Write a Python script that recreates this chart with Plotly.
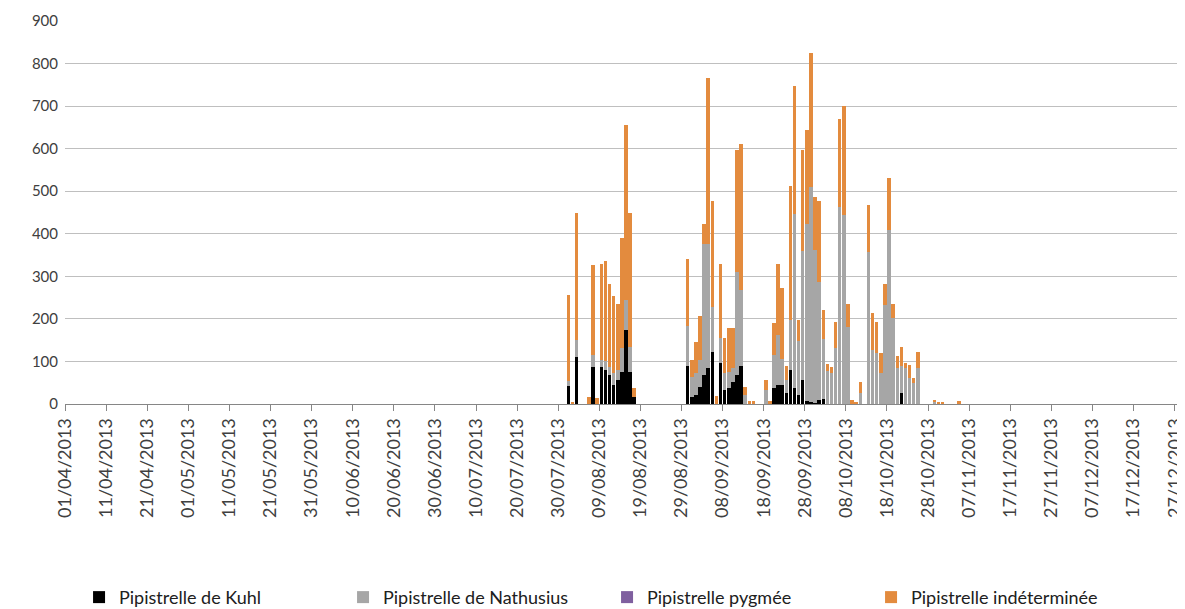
import pandas as pd
import plotly.graph_objects as go

# Daily dates with activity window (01/08/2013 -> 04/11/2013)
dates = pd.date_range("2013-08-01", "2013-11-04", freq="D")

kuhl = [
    43, 0, 110, 0, 0, 0, 87, 0, 86, 80,
    68, 45, 56, 76, 174, 76, 17, 0, 0, 0,
    0, 0, 0, 0, 0, 0, 0, 0, 0, 89,
    17, 21, 41, 68, 84, 123, 0, 96, 33, 37,
    52, 68, 89, 0, 0, 0, 0, 0, 0, 0,
    38, 45, 45, 25, 80, 37, 20, 56, 8, 5,
    3, 10, 12, 0, 0, 0, 0, 0, 0, 0,
    0, 0, 0, 0, 0, 0, 0, 0, 0, 0,
    0, 25, 0, 0, 0, 0, 0, 0, 0, 0,
    0, 0, 0, 0, 0, 0,
]
nathusius = [
    12, 0, 40, 0, 0, 0, 29, 0, 17, 22,
    20, 27, 24, 55, 70, 59, 0, 0, 0, 0,
    0, 0, 0, 0, 0, 0, 0, 0, 0, 94,
    47, 51, 62, 309, 293, 106, 0, 58, 39, 39,
    32, 243, 179, 20, 0, 0, 0, 0, 33, 0,
    77, 117, 60, 31, 117, 410, 128, 303, 416, 506,
    359, 277, 140, 78, 72, 131, 462, 444, 182, 0,
    0, 27, 0, 358, 127, 119, 74, 233, 409, 201,
    84, 64, 84, 60, 49, 84, 0, 0, 0, 6,
    0, 0, 0, 0, 0, 0,
]
pygmee = [0] * 96
indeterminee = [
    201, 3, 298, 0, 0, 17, 210, 14, 226, 235,
    195, 182, 155, 258, 411, 313, 20, 0, 0, 0,
    0, 0, 0, 0, 0, 0, 0, 0, 0, 157,
    39, 74, 104, 47, 390, 247, 18, 175, 82, 102,
    94, 287, 344, 21, 6, 6, 0, 0, 23, 6,
    76, 167, 167, 34, 315, 301, 49, 238, 221, 313,
    125, 191, 69, 16, 16, 62, 207, 256, 53, 9,
    5, 25, 0, 109, 86, 74, 45, 50, 121, 35,
    29, 44, 12, 32, 11, 39, 0, 0, 0, 2,
    3, 3, 0, 0, 0, 6,
]

series_names = ["Pipistrelle de Kuhl", "Pipistrelle de Nathusius",
                "Pipistrelle pygmée", "Pipistrelle indéterminée"]
series_colors = ["#000000", "#a6a6a6", "#7f5f9f", "#e38b3e"]

tick_dates = pd.date_range("2013-04-01", "2013-12-27", freq="10D")
tick_labels = [d.strftime("%d/%m/%Y") for d in tick_dates]

fig = go.Figure()
for name, vals, col in zip(series_names, [kuhl, nathusius, pygmee, indeterminee], series_colors):
    fig.add_bar(x=dates, y=vals, name=name, marker_color=col, marker_line_width=0,
                xperiod=86400000, xperiodalignment="middle")

fig.update_layout(
    barmode="stack",
    bargap=0.15,
    width=1177, height=601,
    margin=dict(l=57, r=5, t=13, b=205, autoexpand=False),
    paper_bgcolor="white", plot_bgcolor="white",
    font=dict(family="Lato", color="#404040"),
    legend=dict(orientation="h", traceorder="normal",
                x=0.0126, xanchor="left", y=-0.505, yanchor="middle",
                entrywidth=219, entrywidthmode="pixels",
                font=dict(size=18, color="#202020")),
)
fig.update_xaxes(
    type="date", automargin=False,
    range=["2013-04-01", "2013-12-28 07:00"],
    tickvals=tick_dates, ticktext=tick_labels, tickangle=-90,
    ticks="outside", ticklen=6, tickcolor="#868686",
    showline=True, linecolor="#868686", linewidth=1,
    showgrid=False, zeroline=False,
    tickfont=dict(size=18, color="#404040"),
)
fig.update_yaxes(
    automargin=False,
    range=[0, 900], dtick=100,
    showgrid=True, gridcolor="#bfbfbf", gridwidth=1,
    showline=False, zeroline=False, ticks="",
    ticklabelstandoff=6,
    tickfont=dict(size=15, color="#404040"),
)

fig.write_html("out.html")
